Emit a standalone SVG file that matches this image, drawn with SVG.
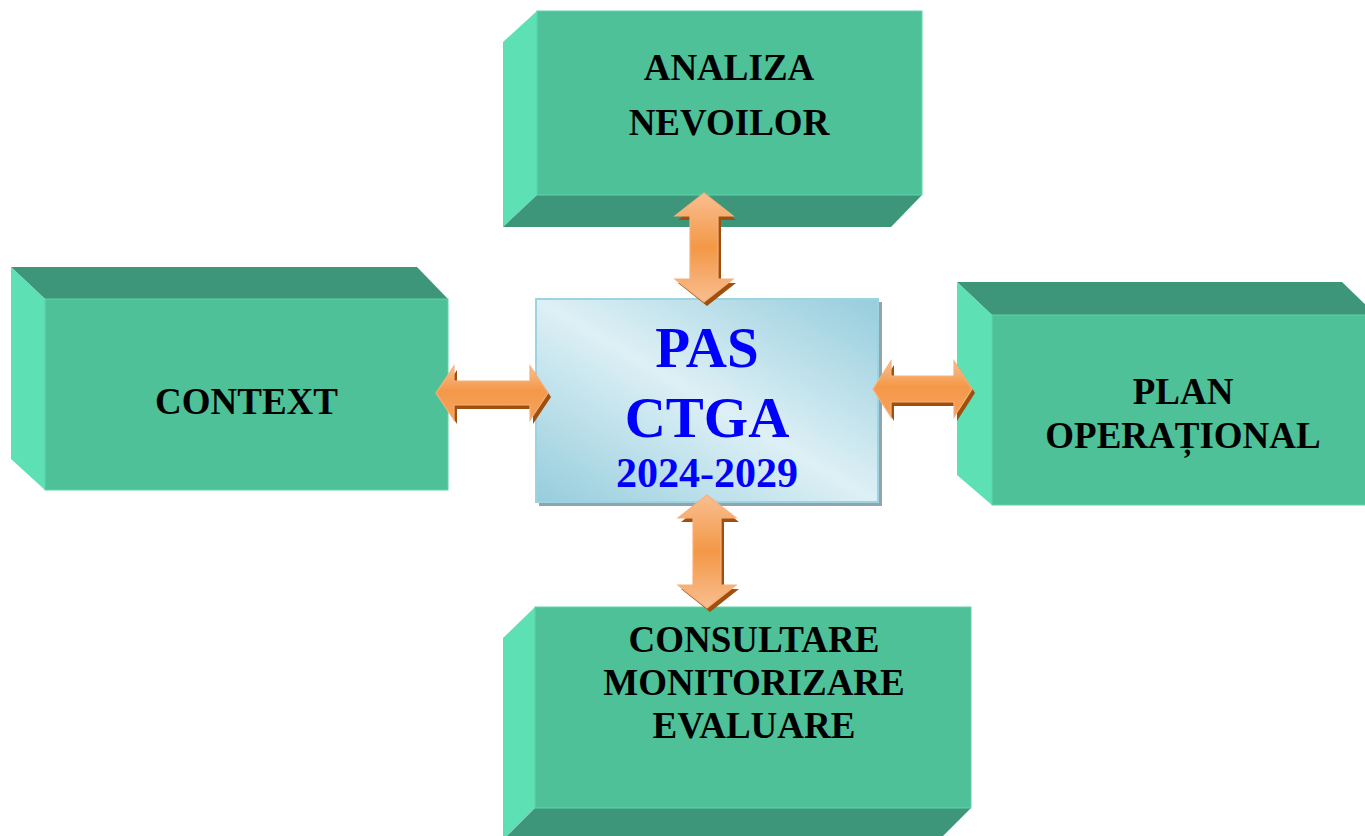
<svg xmlns="http://www.w3.org/2000/svg" xmlns:xlink="http://www.w3.org/1999/xlink" width="1365" height="836" viewBox="0 0 1365 836">
<style>
.front{fill:#4EC199;stroke:#5ED3AA;stroke-width:1}
.side{fill:#5CE0B4}
.dark{fill:#3D9679}
.lbl{font-family:"Liberation Serif","Times New Roman",serif;font-weight:bold;font-size:37px;fill:#000;text-anchor:middle}
.ctr{font-family:"Liberation Serif","Times New Roman",serif;font-weight:bold;fill:#0000FF;text-anchor:middle}
.arrow{stroke:#F8B07A;stroke-width:1.2;stroke-linejoin:miter}
.shadow{fill:#A0500E}
</style>
<defs>
<linearGradient id="cg" x1="0" y1="1" x2="1" y2="0">
<stop offset="0" stop-color="#96CDDD"/>
<stop offset="0.5" stop-color="#DDF0F5"/>
<stop offset="1" stop-color="#96CDDD"/>
</linearGradient>
<linearGradient id="ah" x1="0" y1="0" x2="0" y2="1">
<stop offset="0" stop-color="#F9BE90"/>
<stop offset="0.45" stop-color="#F4994A"/>
<stop offset="1" stop-color="#F5A05A"/>
</linearGradient>
<linearGradient id="av" x1="0" y1="0" x2="0" y2="1">
<stop offset="0" stop-color="#F9BE90"/>
<stop offset="0.5" stop-color="#F39846"/>
<stop offset="1" stop-color="#F9BE90"/>
</linearGradient>
<path id="aL" d="M436,393 L454,366 L454,381 L530,381 L530,366 L548,393 L530,420 L530,405 L454,405 L454,420 Z"/>
<path id="aR" d="M873,389 L891,361 L891,376 L954,376 L954,361 L972,389 L954,417 L954,402 L891,402 L891,417 Z"/>
<path id="aT" d="M704,193 L733,216 L718,216 L718,279 L733,279 L704,302 L675,279 L690,279 L690,216 L675,216 Z"/>
<path id="aB" d="M707,495 L736,518 L721,518 L721,585 L736,585 L707,608 L678,585 L693,585 L693,518 L678,518 Z"/>
</defs>
<rect width="1365" height="836" fill="#FFFFFF"/>

<g id="node-analiza">
<polygon class="side" points="503,42 537,11 537,195 503,227"/>
<polygon class="dark" points="537,195 922,195 891,227 503,227"/>
<rect class="front" x="537" y="11" width="385" height="184"/>
<text class="lbl" x="729" y="80">ANALIZA</text>
<text class="lbl" x="729" y="135">NEVOILOR</text>
</g>

<g id="node-context">
<polygon class="dark" points="11,267 417,267 448,299 45,299"/>
<polygon class="side" points="11,267 45,299 45,490 11,459"/>
<rect class="front" x="45" y="299" width="403" height="191"/>
<text class="lbl" x="246.5" y="414">CONTEXT</text>
</g>

<g id="node-plan">
<polygon class="dark" points="957,282 1342,282 1376,315 992,315"/>
<polygon class="side" points="957,282 992,315 992,505 957,475"/>
<rect class="front" x="992" y="315" width="390" height="190"/>
<text class="lbl" x="1183" y="404">PLAN</text>
<text class="lbl" x="1183" y="448">OPERAȚIONAL</text>
</g>

<g id="node-consultare">
<polygon class="side" points="503,638 535,607 535,808 503,840"/>
<polygon class="dark" points="535,808 971,808 939,840 503,840"/>
<rect class="front" x="535" y="607" width="436" height="201"/>
<text class="lbl" x="754" y="652">CONSULTARE</text>
<text class="lbl" x="754" y="695">MONITORIZARE</text>
<text class="lbl" x="754" y="738">EVALUARE</text>
</g>

<g id="node-pas">
<rect x="539" y="302" width="343" height="204" fill="#8FA5AD"/>
<rect x="536" y="299" width="342" height="203" fill="url(#cg)" stroke="#9DD3E0" stroke-width="2"/>
<text class="ctr" x="707" y="367" font-size="57">PAS</text>
<text class="ctr" x="707" y="437" font-size="57">CTGA</text>
<text class="ctr" x="707" y="487" font-size="42">2024-2029</text>
</g>

<g id="connectors">
<use xlink:href="#aT" class="shadow" transform="translate(3,4)"/>
<use xlink:href="#aT" class="arrow" fill="url(#av)"/>
<use xlink:href="#aB" class="shadow" transform="translate(3,4)"/>
<use xlink:href="#aB" class="arrow" fill="url(#av)"/>
<use xlink:href="#aL" class="shadow" transform="translate(3,4)"/>
<use xlink:href="#aL" class="arrow" fill="url(#ah)"/>
<use xlink:href="#aR" class="shadow" transform="translate(3,4)"/>
<use xlink:href="#aR" class="arrow" fill="url(#ah)"/>
</g>
</svg>
